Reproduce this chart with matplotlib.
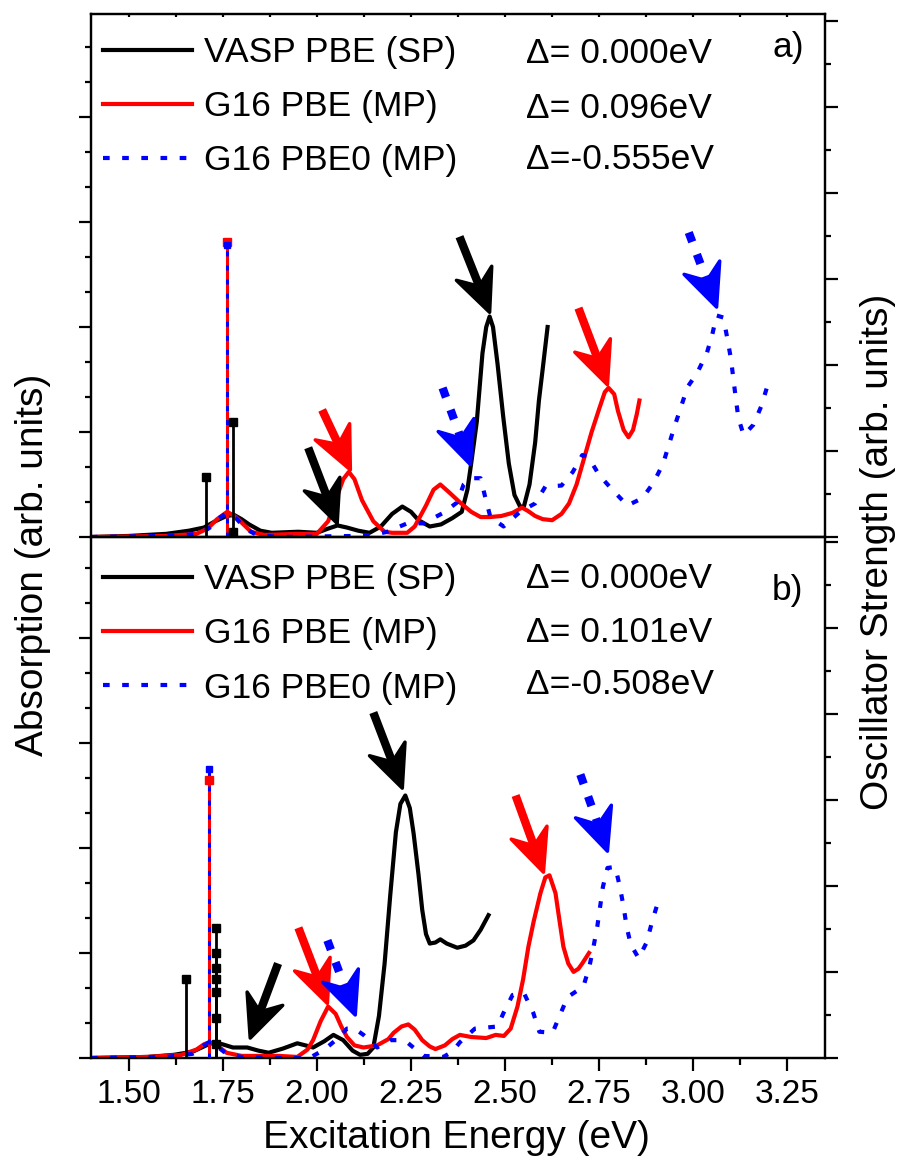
import numpy as np
import matplotlib
matplotlib.use("Agg")
import matplotlib.pyplot as plt
from matplotlib.patches import Polygon
from matplotlib.ticker import MultipleLocator, NullFormatter

plt.rcParams["font.family"] = ["Liberation Sans", "DejaVu Sans"]

# ── Panel a) absorption spectra (eV, arb. units) ─────────────────────────────
a_vasp_x = [1.40, 1.50, 1.60, 1.66, 1.70, 1.73, 1.76, 1.78, 1.80, 1.82, 1.85, 1.88,
            1.95, 2.00, 2.03, 2.055, 2.08, 2.11, 2.14, 2.17, 2.20, 2.227, 2.25, 2.27,
            2.30, 2.33, 2.36, 2.385, 2.40, 2.41, 2.425, 2.44, 2.45, 2.459, 2.468,
            2.48, 2.495, 2.51, 2.525, 2.54, 2.55, 2.565, 2.58, 2.59, 2.60, 2.613]
a_vasp_y = [0.00, 0.01, 0.03, 0.06, 0.09, 0.15, 0.20, 0.21, 0.17, 0.12, 0.06, 0.04,
            0.05, 0.04, 0.08, 0.11, 0.09, 0.06, 0.04, 0.10, 0.22, 0.29, 0.24, 0.16,
            0.10, 0.12, 0.18, 0.24, 0.45, 0.70, 1.10, 1.75, 2.00, 2.10, 2.00,
            1.65, 1.15, 0.70, 0.40, 0.29, 0.29, 0.50, 0.90, 1.30, 1.60, 2.00]

a_pbe_x = [1.40, 1.60, 1.68, 1.71, 1.735, 1.762, 1.785, 1.805, 1.825, 1.86, 1.95,
           2.00, 2.03, 2.05, 2.07, 2.085, 2.10, 2.12, 2.15, 2.18, 2.20, 2.24, 2.26,
           2.29, 2.31, 2.328, 2.35, 2.38, 2.41, 2.435, 2.46, 2.49, 2.52, 2.545,
           2.56, 2.58, 2.60, 2.625, 2.65, 2.67, 2.69, 2.71, 2.73, 2.75, 2.765,
           2.775, 2.79, 2.80, 2.815, 2.828, 2.84, 2.85, 2.857]
a_pbe_y = [0.00, 0.01, 0.03, 0.08, 0.17, 0.24, 0.19, 0.12, 0.05, 0.02, 0.03,
           0.03, 0.15, 0.35, 0.55, 0.62, 0.55, 0.35, 0.15, 0.05, 0.04, 0.04, 0.10,
           0.30, 0.45, 0.50, 0.43, 0.33, 0.24, 0.19, 0.19, 0.20, 0.23, 0.28,
           0.25, 0.20, 0.17, 0.16, 0.22, 0.32, 0.50, 0.75, 1.00, 1.22, 1.38,
           1.42, 1.36, 1.20, 1.02, 0.95, 1.02, 1.17, 1.30]

a_pbe0_x = [1.40, 1.60, 1.69, 1.72, 1.74, 1.762, 1.785, 1.81, 1.84, 1.90, 2.10,
            2.15, 2.187, 2.24, 2.283, 2.336, 2.373, 2.39, 2.41, 2.435, 2.448,
            2.461, 2.496, 2.54, 2.58, 2.607, 2.65, 2.68, 2.705, 2.72, 2.75,
            2.785, 2.825, 2.865, 2.895, 2.92, 2.95, 2.985, 3.01, 3.036, 3.05,
            3.062, 3.08, 3.09, 3.10, 3.113, 3.12, 3.134, 3.16, 3.18, 3.198]
a_pbe0_y = [0.00, 0.01, 0.03, 0.10, 0.18, 0.23, 0.18, 0.08, 0.02, 0.00, 0.01,
            0.02, 0.05, 0.13, 0.13, 0.23, 0.33, 0.50, 0.56, 0.56, 0.37,
            0.19, 0.10, 0.24, 0.32, 0.48, 0.49, 0.62, 0.78, 0.77, 0.59,
            0.45, 0.30, 0.37, 0.52, 0.70, 1.05, 1.43, 1.56, 1.75, 1.92,
            2.11, 2.09, 1.90, 1.70, 1.32, 1.13, 0.97, 1.07, 1.24, 1.45]

# oscillator strengths (sticks, right axis)
a_vasp_stick_x = [1.706, 1.778, 1.778]
a_vasp_stick_f = [0.70, 1.34, 0.06]
a_pbe_stick_x = [1.762]
a_pbe_stick_f = [3.43]
a_pbe0_stick_x = [1.762]
a_pbe0_stick_f = [3.40]

# arrows: tail (x, y) -> tip (x, y)
a_arrow_tail_x = [1.977, 2.014, 2.334, 2.379, 2.695, 2.988]
a_arrow_tail_y = [0.85, 1.21, 1.42, 2.86, 2.18, 2.90]
a_arrow_tip_x = [2.054, 2.089, 2.408, 2.459, 2.772, 3.062]
a_arrow_tip_y = [0.13, 0.64, 0.69, 2.14, 1.45, 2.19]
a_arrow_series = ["vasp", "pbe", "pbe0", "vasp", "pbe", "pbe0"]

a_deltas = ["\u0394= 0.000eV", "\u0394= 0.096eV", "\u0394=-0.555eV"]

# ── Panel b) ─────────────────────────────────────────────────────────────────
b_vasp_x = [1.40, 1.55, 1.62, 1.67, 1.70, 1.725, 1.75, 1.777, 1.815, 1.845, 1.872,
            1.91, 1.948, 1.97, 1.99, 2.02, 2.044, 2.07, 2.095, 2.115, 2.135, 2.15,
            2.165, 2.18, 2.195, 2.21, 2.222, 2.235, 2.247, 2.257, 2.27, 2.28,
            2.29, 2.30, 2.315, 2.328, 2.345, 2.373, 2.395, 2.416, 2.435, 2.456]
b_vasp_y = [0.00, 0.01, 0.03, 0.06, 0.11, 0.15, 0.13, 0.10, 0.10, 0.07, 0.05,
            0.09, 0.14, 0.12, 0.10, 0.16, 0.22, 0.17, 0.07, 0.03, 0.04, 0.10,
            0.40, 0.90, 1.55, 2.15, 2.42, 2.50, 2.38, 2.14, 1.75, 1.41,
            1.18, 1.09, 1.10, 1.13, 1.09, 1.05, 1.07, 1.12, 1.22, 1.36]

b_pbe_x = [1.40, 1.55, 1.64, 1.68, 1.70, 1.714, 1.735, 1.76, 1.80, 1.90, 1.948,
           1.975, 1.99, 2.01, 2.03, 2.05, 2.065, 2.08, 2.10, 2.124, 2.16, 2.19,
           2.204, 2.225, 2.243, 2.26, 2.28, 2.30, 2.315, 2.34, 2.36, 2.38, 2.41,
           2.45, 2.475, 2.497, 2.515, 2.533, 2.548, 2.562, 2.576, 2.594, 2.607,
           2.618, 2.634, 2.645, 2.655, 2.668, 2.682, 2.695, 2.705, 2.723]
b_pbe_y = [0.00, 0.01, 0.03, 0.08, 0.13, 0.15, 0.12, 0.05, 0.02, 0.02, 0.01,
           0.08, 0.17, 0.35, 0.49, 0.42, 0.30, 0.20, 0.12, 0.10, 0.12, 0.18,
           0.24, 0.30, 0.32, 0.27, 0.17, 0.11, 0.085, 0.12, 0.18, 0.22, 0.20,
           0.19, 0.22, 0.21, 0.28, 0.49, 0.75, 1.06, 1.30, 1.57, 1.72,
           1.74, 1.57, 1.30, 1.06, 0.90, 0.82, 0.85, 0.90, 1.00]

b_pbe0_x = [1.40, 1.60, 1.67, 1.70, 1.714, 1.735, 1.76, 1.80, 1.90, 1.98, 2.02,
            2.06, 2.08, 2.10, 2.124, 2.16, 2.195, 2.22, 2.243, 2.283, 2.336,
            2.36, 2.38, 2.42, 2.48, 2.496, 2.52, 2.55, 2.575, 2.591, 2.626,
            2.666, 2.708, 2.724, 2.735, 2.745, 2.76, 2.772, 2.793, 2.805, 2.815,
            2.823, 2.834, 2.855, 2.876, 2.89, 2.905]
b_pbe0_y = [0.00, 0.01, 0.04, 0.12, 0.15, 0.11, 0.04, 0.01, 0.00, 0.00, 0.08,
            0.20, 0.28, 0.28, 0.22, 0.10, 0.17, 0.17, 0.14, 0.02, 0.01,
            0.06, 0.15, 0.28, 0.30, 0.43, 0.60, 0.62, 0.43, 0.25, 0.24,
            0.58, 0.68, 0.87, 1.06, 1.25, 1.63, 1.81, 1.82, 1.63, 1.44,
            1.25, 1.08, 0.95, 1.10, 1.29, 1.47]

b_vasp_stick_x = [1.653, 1.732, 1.732, 1.732, 1.732, 1.732, 1.732, 1.732]
b_vasp_stick_f = [0.92, 1.51, 1.22, 1.05, 0.92, 0.77, 0.47, 0.16]
b_pbe_stick_x = [1.714]
b_pbe_stick_f = [3.23]
b_pbe0_stick_x = [1.714]
b_pbe0_stick_f = [3.36]

b_arrow_tail_x = [1.897, 2.150, 1.951, 2.028, 2.528, 2.700]
b_arrow_tail_y = [0.90, 3.29, 1.24, 1.12, 2.50, 2.70]
b_arrow_tip_x = [1.823, 2.227, 2.028, 2.102, 2.602, 2.772]
b_arrow_tip_y = [0.19, 2.57, 0.52, 0.41, 1.77, 1.97]
b_arrow_series = ["vasp", "vasp", "pbe", "pbe0", "pbe", "pbe0"]

b_deltas = ["\u0394= 0.000eV", "\u0394= 0.101eV", "\u0394=-0.508eV"]

labels = ["VASP PBE (SP)", "G16 PBE (MP)", "G16 PBE0 (MP)"]

COLORS = {"vasp": "black", "pbe": "#ff0000", "pbe0": "#0000ff"}
DOT = (0, (1.6, 3.0))


def draw_arrow(ax, tail, tip, color, dotted):
    # head built in pixel space, then mapped back to data
    to_px = ax.transData.transform
    to_data = ax.transData.inverted().transform
    t0 = np.array(to_px(tail), float)
    t1 = np.array(to_px(tip), float)
    u = (t1 - t0) / np.hypot(*(t1 - t0))
    n = np.array([-u[1], u[0]])
    L, W, notch = 42.0, 38.0, 14.0
    head = [t1, t1 - L * u + W / 2 * n, t1 - (L - notch) * u, t1 - L * u - W / 2 * n]
    ax.add_patch(Polygon(to_data(np.array(head)), closed=True, fc=color, ec=color,
                         lw=2.5, joinstyle="round", zorder=6, clip_on=False))
    shaft_end = to_data((t1 - (L - notch) * u)[None, :])[0]
    ls = (0, (1.2, 1.6)) if dotted else "-"
    ax.plot([tail[0], shaft_end[0]], [tail[1], shaft_end[1]], color=color, lw=6,
            ls=ls, solid_capstyle="butt", dash_capstyle="butt", zorder=6,
            clip_on=False)


def draw_panel(ax, curves, sticks, arrows, deltas, tag, bottom):
    ax.set_xlim(1.40, 3.35)
    ax2 = ax.twinx()
    ax2.set_xlim(1.40, 3.35)

    handles = []
    for key, (x, y) in curves.items():
        ls = DOT if key == "pbe0" else "-"
        h, = ax.plot(x, y, color=COLORS[key], lw=3, ls=ls, zorder=3,
                     dash_capstyle="butt")
        handles.append(h)

    for key, (sx, sf) in sticks.items():
        ls = DOT if key == "pbe0" else "-"
        lw = 2.0 if key == "vasp" else 2.2
        ax2.vlines(sx, 0, sf, color=COLORS[key], lw=lw, linestyles=ls, zorder=4)
        ax2.plot(sx, sf, ls="none", marker="s", ms=6 if key != "pbe0" else 5,
                 color=COLORS[key], zorder=5)

    ax.set_ylim(0, ax_h_units[tag][0])
    ax2.set_ylim(0, ax_h_units[tag][1])

    tx, ty, px, py, series = arrows
    for i in range(len(tx)):
        draw_arrow(ax, (tx[i], ty[i]), (px[i], py[i]), COLORS[series[i]],
                   series[i] == "pbe0")

    ax.legend(handles, labels, loc="upper left",
              bbox_to_anchor=(0.017, ax_leg_top[tag]), frameon=False,
              fontsize=25.5, handlelength=2.5, handletextpad=0.35,
              labelspacing=0.6, borderaxespad=0.0, borderpad=0.0)
    for i, d in enumerate(deltas):
        ax.text(0.592, ax_rows[tag][i], d, transform=ax.transAxes, fontsize=25.5,
                va="center", ha="left")
    ax.text(0.928, ax_tag_y[tag], tag, transform=ax.transAxes, fontsize=25.5,
            va="center", ha="left")

    ax.xaxis.set_major_locator(MultipleLocator(0.25))
    ax.xaxis.set_minor_locator(MultipleLocator(0.125))
    ax.xaxis.set_major_formatter(plt.FormatStrFormatter("%.2f"))
    ax.yaxis.set_major_locator(MultipleLocator(1.0))
    ax.yaxis.set_minor_locator(MultipleLocator(1.0 / 3.0))
    ax.yaxis.set_major_formatter(NullFormatter())
    ax2.yaxis.set_major_locator(MultipleLocator(1.0))
    ax2.yaxis.set_minor_locator(MultipleLocator(0.5))
    ax2.yaxis.set_major_formatter(NullFormatter())

    ax.tick_params(axis="x", which="both", direction="out", bottom=True,
                   labelbottom=bottom, labelsize=24, width=1.6, pad=6)
    ax.tick_params(axis="x", which="major", length=9)
    ax.tick_params(axis="x", which="minor", length=5)
    ax.tick_params(axis="y", which="both", direction="out", left=True, right=False,
                   width=1.6)
    ax.tick_params(axis="y", which="major", length=9)
    ax.tick_params(axis="y", which="minor", length=4.5)
    ax2.tick_params(axis="y", which="both", direction="out", width=1.6)
    ax2.tick_params(axis="y", which="major", length=9)
    ax2.tick_params(axis="y", which="minor", length=4.5)
    for a in (ax, ax2):
        for s in a.spines.values():
            s.set_linewidth(1.6)
    return ax2


ax_h_units = {"a)": (523 / 105, 523 / 86), "b)": (521 / 105, 521 / 86)}
ax_leg_top = {"a)": 0.958, "b)": 0.950}
ax_rows = {"a)": [0.925, 0.820, 0.721], "b)": [0.920, 0.817, 0.716]}
ax_tag_y = {"a)": 0.935, "b)": 0.898}

fig = plt.figure(figsize=(8.98, 11.58), dpi=100)
L, R = 91 / 898, 825 / 898
ax_a = fig.add_axes([L, 1 - 537 / 1158, R - L, (537 - 14) / 1158])
ax_b = fig.add_axes([L, 1 - 1058 / 1158, R - L, (1058 - 537) / 1158])

# set limits before arrows are built in pixel space
for ax, tag in ((ax_a, "a)"), (ax_b, "b)")):
    ax.set_xlim(1.40, 3.35)
    ax.set_ylim(0, ax_h_units[tag][0])

draw_panel(ax_a,
           {"vasp": (a_vasp_x, a_vasp_y), "pbe": (a_pbe_x, a_pbe_y),
            "pbe0": (a_pbe0_x, a_pbe0_y)},
           {"vasp": (a_vasp_stick_x, a_vasp_stick_f),
            "pbe": (a_pbe_stick_x, a_pbe_stick_f),
            "pbe0": (a_pbe0_stick_x, a_pbe0_stick_f)},
           (a_arrow_tail_x, a_arrow_tail_y, a_arrow_tip_x, a_arrow_tip_y, a_arrow_series),
           a_deltas, "a)", bottom=False)
draw_panel(ax_b,
           {"vasp": (b_vasp_x, b_vasp_y), "pbe": (b_pbe_x, b_pbe_y),
            "pbe0": (b_pbe0_x, b_pbe0_y)},
           {"vasp": (b_vasp_stick_x, b_vasp_stick_f),
            "pbe": (b_pbe_stick_x, b_pbe_stick_f),
            "pbe0": (b_pbe0_stick_x, b_pbe0_stick_f)},
           (b_arrow_tail_x, b_arrow_tail_y, b_arrow_tip_x, b_arrow_tip_y, b_arrow_series),
           b_deltas, "b)", bottom=True)

# tiny inward ticks on the top edge of panel a)
ax_a.tick_params(axis="x", which="both", top=True, labeltop=False)
for t in ax_a.xaxis.get_major_ticks() + ax_a.xaxis.get_minor_ticks():
    t.tick2line.set_markersize(2.5)
    t.tick2line.set_marker(3)

fig.text(456 / 898, 1 - 1138 / 1158, "Excitation Energy (eV)", fontsize=28,
         ha="center", va="center")
fig.text(33 / 898, 1 - 565 / 1158, "Absorption (arb. units)", fontsize=28,
         rotation=90, ha="center", va="center")
fig.text(878 / 898, 1 - 552 / 1158, "Oscillator Strength (arb. units)", fontsize=28,
         rotation=90, ha="center", va="center")

fig.savefig("out.png", dpi=100)
